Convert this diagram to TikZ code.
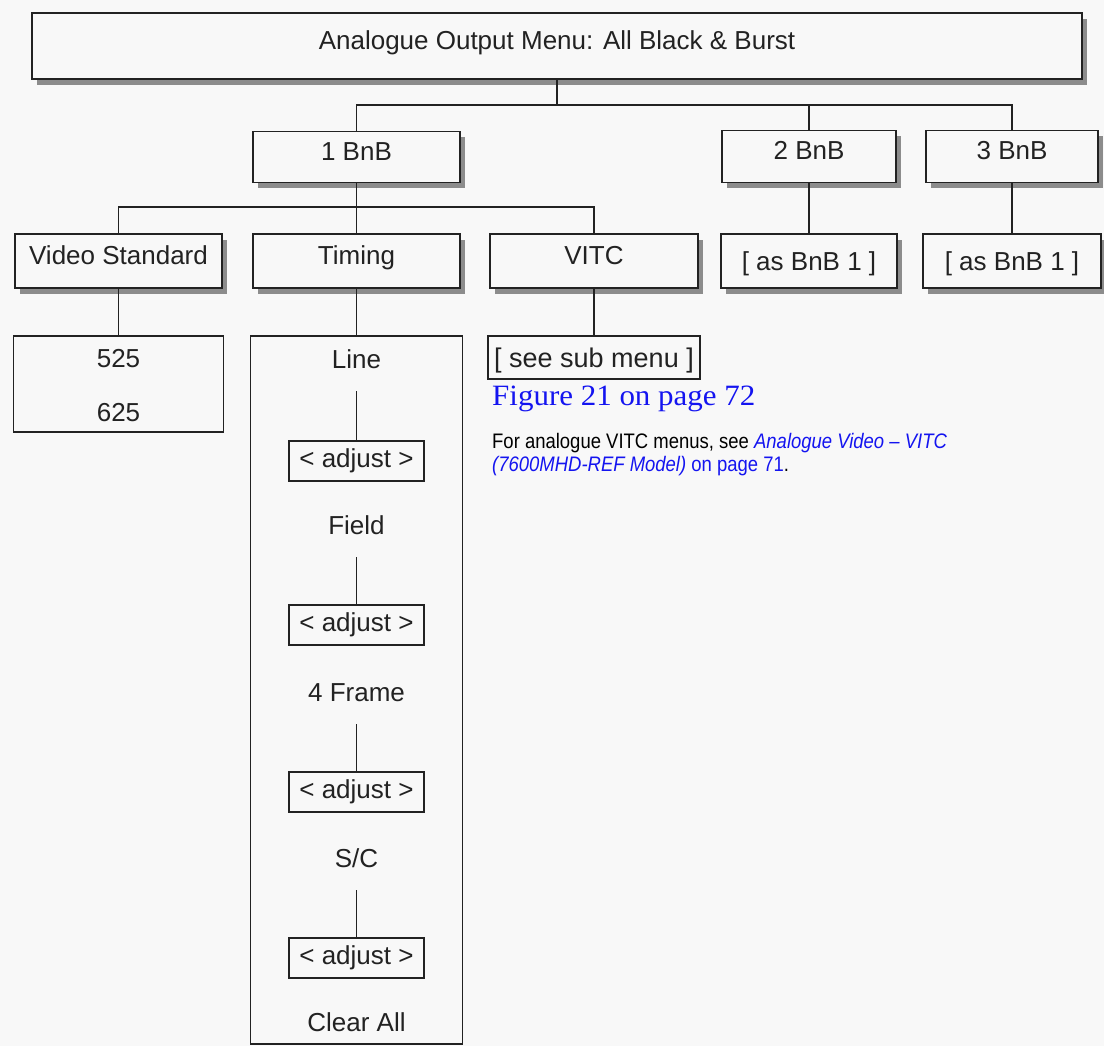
\documentclass[tikz,border=0pt]{standalone}
\usepackage{fontspec}
\usetikzlibrary{shadows}
\newfontfamily\arialfont{Liberation Sans}
\newfontfamily\narrowfont[FakeStretch=0.88]{Liberation Sans}
\newfontfamily\figfont[FakeStretch=1.05]{Liberation Serif}
\definecolor{pagebg}{HTML}{F8F8F8}
\definecolor{ink}{HTML}{222222}
\definecolor{linkblue}{HTML}{1414F0}
\begin{document}
\begin{tikzpicture}[x=1pt,y=-1pt,
  every node/.style={font=\arialfont\fontsize{26}{30}\selectfont, text=ink},
  % label sits a little above the middle of the box
  menubox/.style={draw=ink, line width=1.9pt, fill=pagebg, inner sep=0pt,
    text height=19pt, text depth=12.4pt},
  % label centred in the box
  asbox/.style={draw=ink, line width=1.9pt, fill=pagebg, inner sep=0pt,
    text height=19pt, text depth=0pt},
  shadowed/.style={drop shadow={shadow xshift=5pt, shadow yshift=-6pt,
    fill=black!45, opacity=1}},
  item/.style={inner sep=0pt, minimum height=64pt, text height=18.6pt, text depth=0pt},
  adjbox/.style={draw=ink, line width=1.9pt, fill=pagebg, inner sep=0pt,
    minimum width=135pt, minimum height=40pt, text height=19pt, text depth=6.4pt},
  plainbox/.style={draw=ink, line width=1.9pt, inner sep=0pt},
  wire/.style={draw=ink, line width=1.9pt}
]
% page
\fill[pagebg] (0,0) rectangle (1104,1046);
\useasboundingbox (0,0) rectangle (1104,1046);

% top level
\node[menubox, shadowed, minimum width=1050pt, minimum height=66pt] (top) at (557,46)
  {Analogue Output Menu: All Black \& Burst};

% second level
\node[menubox, shadowed, minimum width=207pt, minimum height=51pt] (b1) at (356.5,157) {1 BnB};
\node[menubox, shadowed, minimum width=174pt, minimum height=52pt] (b2) at (809,156.5) {2 BnB};
\node[menubox, shadowed, minimum width=172pt, minimum height=52pt] (b3) at (1012,156.5) {3 BnB};

% third level
\node[menubox, shadowed, minimum width=207pt, minimum height=54pt] (vs) at (118.5,261) {Video Standard};
\node[menubox, shadowed, minimum width=207pt, minimum height=54pt] (tim) at (356.5,261) {Timing};
\node[menubox, shadowed, minimum width=208pt, minimum height=54pt] (vitc) at (594,261) {VITC};
\node[asbox, shadowed, minimum width=176pt, minimum height=54pt] (as2) at (809,261) {[ as BnB 1 ]};
\node[asbox, shadowed, minimum width=178pt, minimum height=54pt] (as3) at (1012,261) {[ as BnB 1 ]};

% video standard choices
\node[plainbox, minimum width=210pt, minimum height=96pt] (std) at (118.5,384) {};
\node[item] (s525) at (118.5,358) {525};
\node[item] (s625) at (118.5,412) {625};

% timing column
\node[plainbox, minimum width=212pt, minimum height=708pt] (tcol) at (356.5,690) {};
\node[item] (tline) at (356.5,359) {Line};
\node[adjbox] (adj1) at (356.5,461) {< adjust >};
\node[item] (tfield) at (356.5,525) {Field};
\node[adjbox] (adj2) at (356.5,625) {< adjust >};
\node[item] (tframe) at (356.5,692) {4 Frame};
\node[adjbox] (adj3) at (356.5,792) {< adjust >};
\node[item] (tsc) at (356.5,858) {S/C};
\node[adjbox] (adj4) at (356.5,958) {< adjust >};
\node[item] (tclear) at (356.5,1022) {Clear All};

% VITC sub menu
\node[plainbox, fill=pagebg, minimum width=212pt, minimum height=43pt,
  font=\arialfont\fontsize{27}{30}\selectfont, text height=19.3pt, text depth=0pt] (sub) at (594,357.5)
  {[ see sub menu ]};
\node[anchor=base west, inner sep=0pt, text=linkblue, font=\figfont\fontsize{29.5}{32}\selectfont] (figref) at (492,405)
  {Figure 21 on page 72};
\node[anchor=base west, inner sep=0pt, font=\narrowfont\fontsize{21}{22}\selectfont, text=black] (note1) at (492,448)
  {For analogue VITC menus, see \textcolor{linkblue}{\itshape Analogue Video – VITC}};
\node[anchor=base west, inner sep=0pt, font=\narrowfont\fontsize{21}{22}\selectfont, text=black] (note2) at (492,471)
  {\textcolor{linkblue}{\itshape (7600MHD-REF Model)\upshape\ on page 71}.};

% connectors
\coordinate (busA) at (0,105);
\coordinate (busB) at (0,207);
\draw[wire] (top.south) -- (top.south |- busA);
\draw[wire] (b1.north) -- (b1.north |- busA) -- (b3.north |- busA) -- (b3.north);
\draw[wire] (b2.north) -- (b2.north |- busA);
\draw[wire] (b1.south) -- (b1.south |- busB);
\draw[wire] (vs.north) -- (vs.north |- busB) -- (vitc.north |- busB) -- (vitc.north);
\draw[wire] (tim.north) -- (tim.north |- busB);
\draw[wire] (b2.south) -- (as2.north);
\draw[wire] (b3.south) -- (as3.north);
\draw[wire] (vs.south) -- (std.north);
\draw[wire] (tim.south) -- (tcol.north);
\draw[wire] (vitc.south) -- (sub.north);
\draw[wire] (tline.south) -- (adj1.north);
\draw[wire] (tfield.south) -- (adj2.north);
\draw[wire] (tframe.south) -- (adj3.north);
\draw[wire] (tsc.south) -- (adj4.north);
\end{tikzpicture}
\end{document}
